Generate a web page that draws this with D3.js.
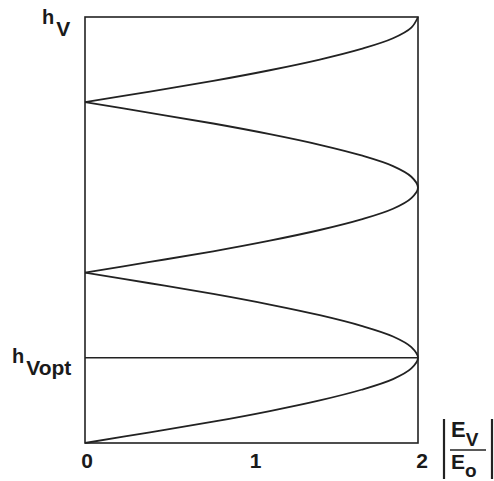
<!DOCTYPE html>
<html>
<head>
<meta charset="utf-8">
<script src="https://cdn.jsdelivr.net/npm/d3@7"></script>
<style>
  html, body { margin: 0; padding: 0; background: #fff; }
  svg { display: block; }
  text { font-family: "Liberation Sans", Arial, sans-serif; font-weight: bold; fill: #1a1a1a; }
</style>
</head>
<body>
<svg id="chart" width="494" height="481"></svg>
<script>
// Height above ground in quarter-wavelength units (0 .. 5)
const heights = [
  0, 0.125, 0.25, 0.375, 0.5, 0.625, 0.75, 0.875,
  1, 1.125, 1.25, 1.375, 1.5, 1.625, 1.75, 1.875,
  2, 2.125, 2.25, 2.375, 2.5, 2.625, 2.75, 2.875,
  3, 3.125, 3.25, 3.375, 3.5, 3.625, 3.75, 3.875,
  4, 4.125, 4.25, 4.375, 4.5, 4.625, 4.75, 4.875, 5
];
// Relative field strength |E_V / E_o| at each height
const fieldRatio = [
  0, 0.39, 0.77, 1.11, 1.41, 1.66, 1.85, 1.96,
  2, 1.96, 1.85, 1.66, 1.41, 1.11, 0.77, 0.39,
  0, 0.39, 0.77, 1.11, 1.41, 1.66, 1.85, 1.96,
  2, 1.96, 1.85, 1.66, 1.41, 1.11, 0.77, 0.39,
  0, 0.39, 0.77, 1.11, 1.41, 1.66, 1.85, 1.96, 2
];
// Nodes of the standing wave split the curve into separate lobes
const nodeHeights = [0, 2, 4, 5];
const optimumHeight = 1;
const xTicks = [0, 1, 2];

const svg = d3.select("#chart");
const x = d3.scaleLinear().domain([0, 2]).range([85, 418]);
const y = d3.scaleLinear().domain([0, 5]).range([443, 17]);

const ink = "#222";
const points = heights.map((h, i) => ({ h, e: fieldRatio[i] }));

// Frame
svg.append("rect")
  .attr("x", x(0)).attr("y", y(5))
  .attr("width", x(2) - x(0)).attr("height", y(0) - y(5))
  .attr("fill", "none").attr("stroke", ink).attr("stroke-width", 1.6);

// Optimum height line
svg.append("line")
  .attr("x1", x(0)).attr("x2", x(2))
  .attr("y1", y(optimumHeight)).attr("y2", y(optimumHeight))
  .attr("stroke", ink).attr("stroke-width", 1.6);

// Field-strength curve, one path per lobe
const line = d3.line()
  .x(d => x(d.e)).y(d => y(d.h))
  .curve(d3.curveCatmullRom.alpha(0.5));

for (let i = 0; i < nodeHeights.length - 1; i++) {
  const seg = points.filter(p => p.h >= nodeHeights[i] && p.h <= nodeHeights[i + 1]);
  svg.append("path")
    .attr("d", line(seg))
    .attr("fill", "none").attr("stroke", ink).attr("stroke-width", 1.8);
}

// X tick labels
svg.selectAll("text.xt").data(xTicks).enter().append("text")
  .attr("class", "xt")
  .attr("x", d => x(d) + (d === 0 ? 2 : 4))
  .attr("y", 468)
  .attr("text-anchor", "middle")
  .attr("font-size", 21)
  .text(d => d);

// Y labels
const hv = svg.append("text").attr("x", 42).attr("y", 24).attr("font-size", 20);
hv.append("tspan").text("h");
hv.append("tspan").attr("dx", 2).attr("dy", 12).attr("font-size", 21).text("V");

const hopt = svg.append("text").attr("x", 12).attr("y", 363).attr("font-size", 20);
hopt.append("tspan").text("h");
hopt.append("tspan").attr("dx", 2).attr("dy", 12).attr("font-size", 21).text("Vopt");

// X axis quantity |E_V / E_o|
const q = svg.append("g");
q.append("line").attr("x1", 444).attr("x2", 444).attr("y1", 419).attr("y2", 479)
  .attr("stroke", ink).attr("stroke-width", 2.2);
q.append("line").attr("x1", 492).attr("x2", 492).attr("y1", 419).attr("y2", 479)
  .attr("stroke", ink).attr("stroke-width", 2.2);
q.append("line").attr("x1", 450).attr("x2", 486).attr("y1", 450).attr("y2", 450)
  .attr("stroke", ink).attr("stroke-width", 1.6);
const num = q.append("text").attr("x", 451).attr("y", 437).attr("font-size", 22);
num.append("tspan").text("E");
num.append("tspan").attr("dy", 9).attr("font-size", 19).text("V");
const den = q.append("text").attr("x", 451).attr("y", 469).attr("font-size", 21);
den.append("tspan").text("E");
den.append("tspan").attr("dy", 8).attr("font-size", 19).text("o");
</script>
</body>
</html>
